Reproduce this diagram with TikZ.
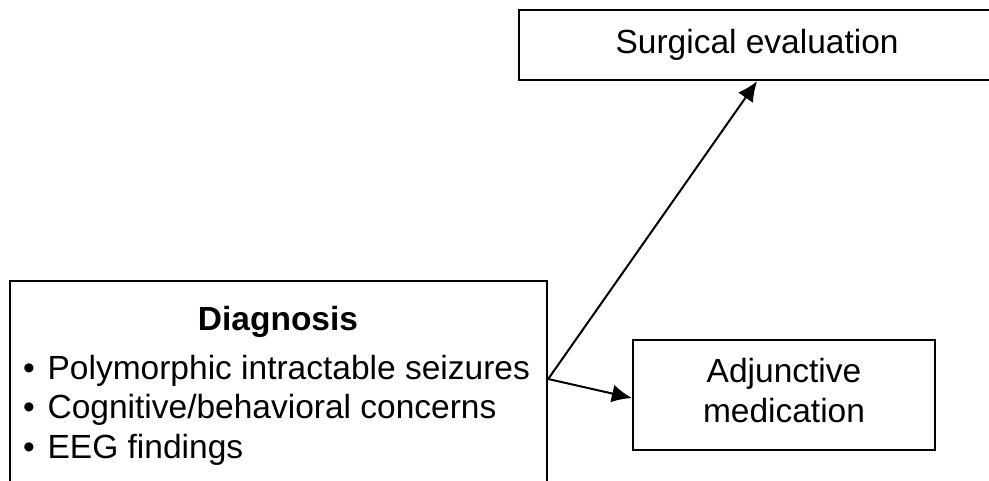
\documentclass[tikz,border=0pt]{standalone}
\usepackage{fontspec}
\setmainfont{Liberation Sans}
\usetikzlibrary{positioning}
\usetikzlibrary{arrows.meta}

\tikzset{
  box/.style={draw, line width=2.2pt, inner sep=0pt},
  txt/.style={font=\fontsize{33.5}{39.5}\selectfont, inner sep=0pt},
  link/.style={line width=2pt, -{Latex[length=20pt,width=18pt]}},
}

\begin{document}
\begin{tikzpicture}[x=1pt,y=-1pt]
                \useasboundingbox (0,0) rectangle (989,480);

                \node[box, anchor=north west, minimum width=537pt, minimum height=230pt] (diag) at (9,280) {};
                \node[txt, anchor=base] (diagtitle) at (278,330) {\bfseries Diagnosis};
                \foreach \entry [count=\i] in {Polymorphic intractable seizures, Cognitive/behavioral concerns, EEG findings}
                  \node[txt, anchor=base west] (item\i) at (23,{379+39.5*(\i-1)}) {\textbullet\hspace{0.38em}\entry};

                \node[box, txt, anchor=north west, minimum width=476pt, minimum height=70pt] (surg) at (518,9) {\raisebox{-2pt}{Surgical evaluation}};
                \node[box, txt, align=center, text depth=9pt, minimum width=302pt, minimum height=110pt] (adj) at (784,395) {Adjunctive\\medication};

                \coordinate (fork) at (diag.east |- item1.base);
                \draw[link] (fork) -- (surg.south);
                \draw[link] (fork) -- ([yshift=-3pt]adj.west);
              \end{tikzpicture}
\end{document}
